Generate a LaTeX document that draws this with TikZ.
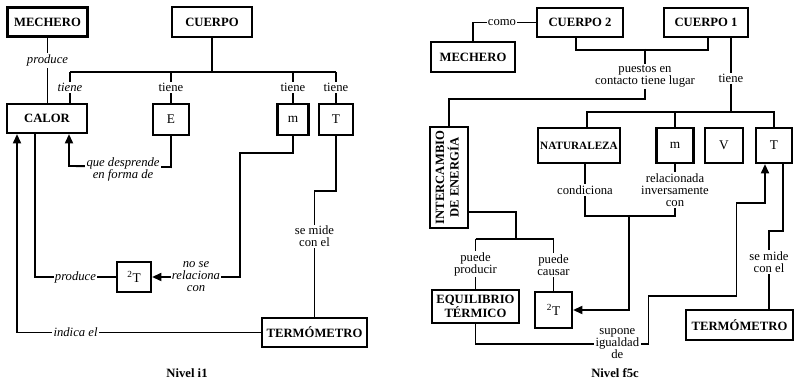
\documentclass[tikz,border=0pt]{standalone}
\usepackage{fontspec}
\setmainfont{Liberation Serif}
\usepackage{graphicx}
\usetikzlibrary{arrows.meta}

\tikzset{
  box/.style={draw, line width=1.6pt, inner sep=1pt, align=center,
    font=\fontsize{9.5}{9}\selectfont\bfseries},
  letter/.style={font=\fontsize{10}{10}\selectfont},
  boxsize/.style 2 args={minimum width=#1*0.75pt, minimum height=#2*0.75pt},
  lbl/.style={fill=white, inner sep=1pt, align=center, font=\fontsize{9.5}{9}\selectfont},
  ilbl/.style={lbl, font=\fontsize{9.5}{9}\selectfont\itshape},
  link/.style={line width=1.4pt},
  tip/.style={-{Triangle[width=6pt,length=7pt]}},
  title/.style={font=\fontsize{9.5}{10}\selectfont\bfseries}
}

\begin{document}
\begin{tikzpicture}[x=0.75pt, y=-0.75pt]
\useasboundingbox (0,0) rectangle (794,384);

\node[box, boxsize={80}{29}] (mech) at (47.5,22) {MECHERO};
\node[box, boxsize={80}{30}] (cuerpo) at (212,22) {CUERPO};
\node[box, boxsize={80}{29}] (calor) at (47,118.5) {CALOR};
\node[box, letter, boxsize={36}{31}] (ebox) at (171,119.5) {E};
\node[box, letter, boxsize={31}{31}] (mbox) at (293,119.5) {m};
\node[box, letter, boxsize={34}{31}] (tbox) at (336,119.5) {T};
\node[box, letter, boxsize={34}{30}] (dtbox) at (134,277) {\textsuperscript{2}T};
\node[box, boxsize={105}{29}] (termo) at (314.5,332.5) {TERMÓMETRO};
\node[title] (nivelA) at (187,373) {Nivel i1};

\coordinate (busA) at (70,72);
\draw[link] (cuerpo.south) -- (cuerpo.south |- busA);
\draw[link] (busA) -- (tbox.north |- busA);
\draw[link] (busA) -- node[ilbl]{tiene} (busA |- calor.north);
\draw[link] (ebox.north |- busA) -- node[lbl]{tiene} (ebox.north);
\draw[link] (mbox.north |- busA) -- node[lbl]{tiene} (mbox.north);
\draw[link] (tbox.north |- busA) -- node[lbl]{tiene} (tbox.north);
\draw[link] (mech.south) -- node[ilbl, pos=0.35]{produce} (mech.south |- calor.north);

\draw[link, tip] (ebox.south) -- ++(0,31)
  -- node[ilbl, pos=0.47, yshift=-2pt]{que desprende\\en forma de} (69,166)
  -- (calor.south -| 69,0);
\draw[link, tip] (mbox.south) |- (240,153)
  |- node[ilbl, pos=0.75]{no se\\relaciona\\con} (dtbox.east);
\draw[link] (calor.south -| 35,0) |- node[ilbl, pos=0.75]{produce} (dtbox.west);
\draw[link, tip] (termo.west) -| node[ilbl, pos=0.38]{indica el} (calor.south -| 17,0);
\draw[link] (tbox.south) -- ++(0,55) -| node[lbl, pos=0.68]{se mide\\con el} (termo.north);

\node[box, boxsize={86}{29}] (cuerpoB) at (580,22.5) {CUERPO 2};
\node[box, boxsize={84}{29}] (cuerpoA) at (706,22.5) {CUERPO 1};
\node[box, boxsize={84}{30}] (mechB) at (473,57) {MECHERO};
\node[box, boxsize={82}{35}, font=\fontsize{8.4}{9}\selectfont\bfseries] (natur) at (579,145.5) {NATURALEZA};
\node[box, letter, boxsize={37}{35}] (mB) at (675,145.5) {m};
\node[box, letter, boxsize={38}{35}] (vB) at (724,145.5) {V};
\node[box, letter, boxsize={36}{35}] (tB) at (774,145.5) {T};
\node[box, boxsize={38}{101}] (inter) at (449,177.5)
  {\rotatebox{90}{\begin{tabular}{@{}c@{}}INTERCAMBIO\\DE ENERGÍA\end{tabular}}};
\node[box, boxsize={87}{33}] (equil) at (475.5,306.5) {EQUILIBRIO\\TÉRMICO};
\node[box, letter, boxsize={37}{36}] (dtB) at (553.5,310) {\textsuperscript{2}T};
\node[box, boxsize={107}{30}] (termoB) at (739.5,325) {TERMÓMETRO};
\node[title] (nivelB) at (615,373) {Nivel f5c};

\draw[link] (cuerpoB.west) -| node[lbl, pos=0.27]{como} (mechB.north);
\draw[link] ([xshift=-3pt]cuerpoB.south) -- ++(0,12) -| ([xshift=1.5pt]cuerpoA.south);
\coordinate (contact) at (645,49);
\draw[link] (contact) -- node[lbl, pos=0.55]{puestos en\\contacto tiene lugar} ++(0,50) -| (inter.north);

\coordinate (busB) at (731,112);
\draw[link] (cuerpoA.south -| busB) -- node[lbl, pos=0.55]{tiene} (busB);
\draw[link] ([xshift=6pt]natur.north) |- (tB.north |- busB) -- (tB.north);
\draw[link] (mB.north |- busB) -- (mB.north);

\draw[link] ([xshift=4.5pt]natur.south) -- node[lbl]{condiciona} ++(0,52)
  -| node[lbl, pos=0.75]{relacionada\\inversamente\\con} (mB.south);
\coordinate (joinB) at (629,215);
\draw[link, tip] (joinB) |- (dtB.east);

\coordinate (interB) at (516,239);
\draw[link] (inter.east |- 0,212) -| (interB);
\draw[link] (equil.north |- interB) -- (dtB.north |- interB);
\draw[link] (equil.north |- interB) -- node[lbl]{puede\\producir} (equil.north);
\draw[link] (dtB.north |- interB) -- node[lbl]{puede\\causar} (dtB.north);

\draw[link, tip] (equil.south) -- ++(0,20)
  -- node[lbl, pos=0.82]{supone\\igualdad\\de} ++(173,0)
  -- ++(0,-48) -- ++(88,0) -- ++(0,-93) -| ([xshift=-6.75pt]tB.south);
\draw[link] ([xshift=6.75pt]tB.south) -- ++(0,67)
  -| node[lbl, pos=0.7]{se mide\\con el} (termoB.north -| 769,0);
\end{tikzpicture}
\end{document}
